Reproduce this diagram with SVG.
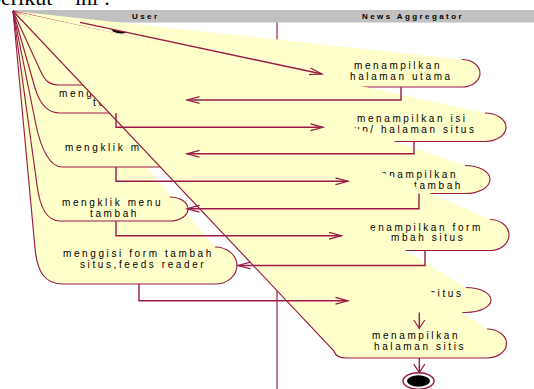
<svg xmlns="http://www.w3.org/2000/svg" width="534" height="389" viewBox="0 0 534 389">
<style>
.fill{fill:#FFFFCC;stroke:none}
.edge{fill:none;stroke:#9B1B45;stroke-width:1.15}
.flow{fill:none;stroke:#9B1B45;stroke-width:1.4}
.t{font-family:"Liberation Sans",Arial,sans-serif;font-size:10px;letter-spacing:2.6px;fill:#000}
.h{font-family:"Liberation Sans",Arial,sans-serif;font-size:8px;font-weight:bold;letter-spacing:2.4px;fill:#000}
.serif{font-family:"Liberation Serif","Times New Roman",serif;font-size:22px;fill:#000}
</style>
<defs>
<marker id="head" markerUnits="userSpaceOnUse" viewBox="0 0 13 8" refX="12.5" refY="4" markerWidth="13" markerHeight="8" orient="auto" overflow="visible">
<path d="M0,0.6 L12.5,4 L0,7.4" fill="none" stroke="#9B1B45" stroke-width="1.2"/>
</marker>
<marker id="headv" markerUnits="userSpaceOnUse" viewBox="0 0 9 12" refX="8.5" refY="6" markerWidth="9" markerHeight="12" orient="auto" overflow="visible">
<path d="M0,0.5 L8.5,6 L0,11.5" fill="none" stroke="#9B1B45" stroke-width="1.2"/>
</marker>
</defs>

<!-- running text of the page above the diagram -->
<text class="serif" y="4.5"><tspan x="-10">berikut</tspan><tspan x="75">ini</tspan><tspan x="104">:</tspan></text>

<!-- swimlanes -->
<g id="swimlanes">
<rect x="13" y="10" width="521" height="12.5" fill="#C0C0C0"/>
<text class="h" x="132" y="19">User</text>
<text class="h" x="362" y="19">News Aggregator</text>
<line x1="277" y1="22.5" x2="277" y2="389" class="edge"/>
</g>

<!-- activity states: User lane -->
<g id="node-e">
<path class="fill" d="M13,11 L215,247 A22,18.5 0 0 1 215,284 L63,284 C45,284 37,272 35,248 Z"/>
<path class="edge" d="M215,247 A22,18.5 0 0 1 215,284 L63,284 C45,284 37,272 35,248 L13,11"/>
<text class="t" x="63" y="256.5">menggisi form tambah</text>
<text class="t" x="80" y="267.5">situs,feeds reader</text>
</g>
<g id="node-d">
<path class="fill" d="M13,11 L170,197 A18,12 0 0 1 170,221 L60,221 C48,221 40,209 37,185 Z"/>
<path class="edge" d="M170,197 A18,12 0 0 1 170,221 L60,221 C48,221 40,209 37,185 L13,11"/>
<text class="t" x="62" y="206">mengklik menu</text>
<text class="t" x="90" y="216.5">tambah</text>
</g>
<g id="node-c">
<path class="fill" d="M13,11 L158,133 A17,17 0 0 1 158,167 L62,167 C50,167 41,149 36,125 Z"/>
<path class="edge" d="M158,133 A17,17 0 0 1 158,167 L62,167 C50,167 41,149 36,125 L13,11"/>
<text class="t" x="65" y="151">mengklik m</text>
</g>
<g id="node-b">
<path class="fill" d="M13,11 L150,86 A15,13.5 0 0 1 150,113 L60,113 C50,113 41,108 35,88 Z"/>
<path class="edge" d="M150,86 A15,13.5 0 0 1 150,113 L60,113 C50,113 41,108 35,88 L13,11"/>
<text class="t" x="59" y="97">meng</text>
<text class="t" x="93" y="106">te</text>
</g>
<g id="node-a">
<path class="fill" d="M13,11 L150,58 A15,13.5 0 0 1 150,85 L60,85 C48,85 44.6,80 40,70 Z"/>
<path class="edge" d="M150,58 A15,13.5 0 0 1 150,85 L60,85 C48,85 44.6,80 40,70 L13,11"/>
</g>

<!-- activity states: News Aggregator lane -->
<g id="node-r1">
<path class="fill" d="M13,11 L462,59.5 A18,13.75 0 0 1 462,87 L340,87 C330,87 325,84 323,80 Z"/>
<path class="edge" d="M462,59.5 A18,13.75 0 0 1 462,87 L340,87 C330,87 325,84 323,80 L13,11"/>
<text class="t" x="354" y="69">menampilkan</text>
<text class="t" x="350" y="79.5">halaman utama</text>
</g>
<g id="node-r2">
<path class="fill" d="M13,11 L485,113 A21,14.25 0 0 1 485,141.5 L345,141.5 C336,141.5 333,138 332,134 Z"/>
<path class="edge" d="M485,113 A21,14.25 0 0 1 485,141.5 L345,141.5 C336,141.5 333,138 332,134 L13,11"/>
<text class="t" x="357" y="122">menampilkan isi</text>
<text class="t" x="354" y="132.5">up/ halaman situs</text>
</g>
<g id="node-r3">
<path class="fill" d="M13,11 L465,165.5 A25,14 0 0 1 465,193.5 L350,193.5 C341,193.5 338,190 337,186 Z"/>
<path class="edge" d="M465,165.5 A25,14 0 0 1 465,193.5 L350,193.5 C341,193.5 338,190 337,186 L13,11"/>
<text class="t" x="381" y="177.5">enampilkan</text>
<text class="t" x="414" y="189">tambah</text>
</g>
<g id="node-r4">
<path class="fill" d="M13,11 L490,219.5 A19,15.5 0 0 1 490,250.5 L350,250.5 C341,250.5 338,247 337,243 Z"/>
<path class="edge" d="M490,219.5 A19,15.5 0 0 1 490,250.5 L350,250.5 C341,250.5 338,247 337,243 L13,11"/>
<text class="t" x="370" y="230.5">enampilkan form</text>
<text class="t" x="391" y="241">mbah situs</text>
</g>
<g id="node-r5">
<path class="fill" d="M13,11 L466,287.5 A25,12.5 0 0 1 466,312.5 L350,312.5 C341,312.5 338,309 337,305 Z"/>
<path class="edge" d="M466,287.5 A25,12.5 0 0 1 466,312.5 L350,312.5 C341,312.5 338,309 337,305 L13,11"/>
<text class="t" x="430" y="297">situs</text>
</g>
<g id="node-r6">
<path class="fill" d="M13,11 L487,329 A19.5,14.5 0 0 1 487,358 L347,358 C339,358 335,355 334,351 Z"/>
<path class="edge" d="M487,329 A19.5,14.5 0 0 1 487,358 L347,358 C339,358 335,355 334,351 L13,11"/>
<text class="t" x="372" y="339">menampilkan</text>
<text class="t" x="374" y="349.5">halaman sitis</text>
</g>

<!-- start and end states -->
<g id="initial-node">
<path d="M111,29.2 C114,33.5 122,34.5 127,32.6 Z" fill="#000"/>
</g>
<g id="final-node">
<ellipse cx="418.5" cy="381" rx="15.5" ry="8.2" fill="#fff" stroke="#9B1B45" stroke-width="1.5"/>
<ellipse cx="418.5" cy="381" rx="11.5" ry="5.8" fill="#000"/>
</g>

<!-- transitions -->
<g id="connectors" class="flow">
<path d="M80,22.4 L322,74" marker-end="url(#head)"/>
<path d="M401,87 V100 H187" marker-end="url(#head)"/>
<path d="M116,113 V127.3 H323" marker-end="url(#head)"/>
<path d="M414,141.5 V153.8 H187" marker-end="url(#head)"/>
<path d="M116,167 V181.3 H348" marker-end="url(#head)"/>
<path d="M419,193.5 V208.7 H187" marker-end="url(#head)"/>
<path d="M116,221 V235.7 H341.5" marker-end="url(#head)"/>
<path d="M425,250.5 V265.5 H238" marker-end="url(#head)"/>
<path d="M139,284 V300.8 H348" marker-end="url(#head)"/>
<path d="M419.3,312.5 V328.5" marker-end="url(#headv)"/>
<path d="M419.3,358 V372.7" marker-end="url(#headv)"/>
</g>
</svg>
